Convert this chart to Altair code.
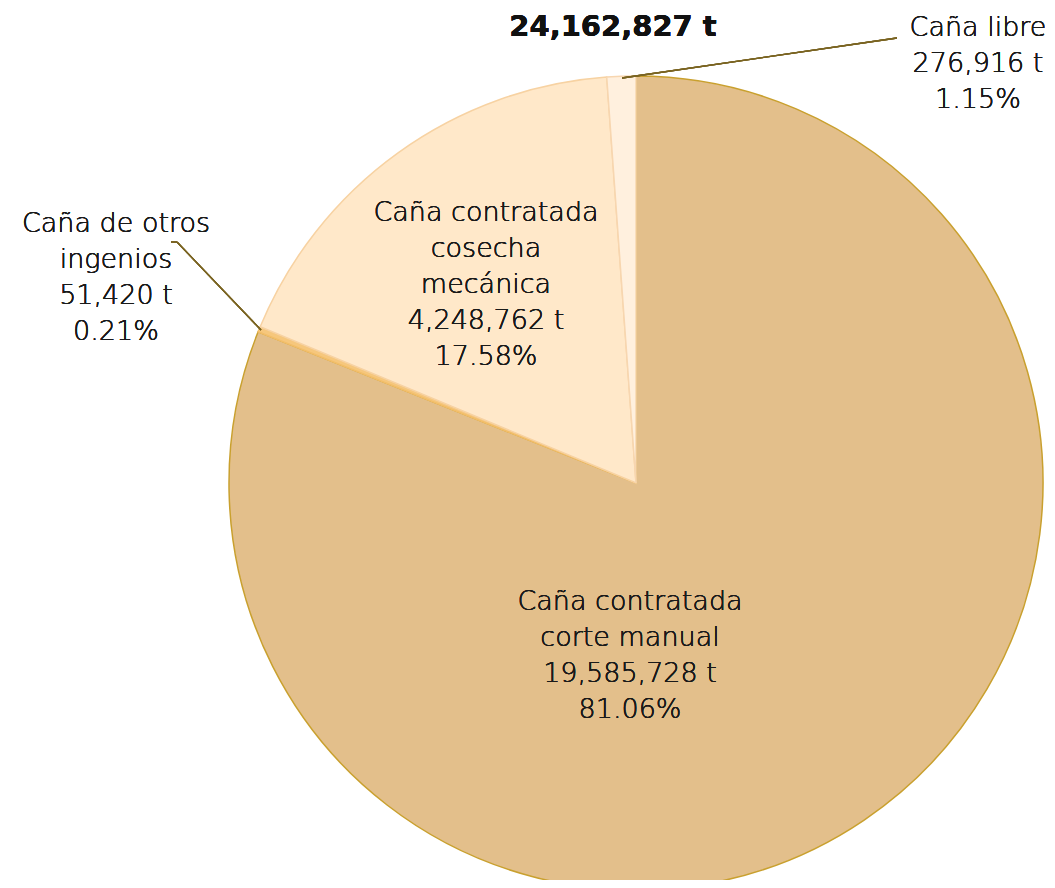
import altair as alt
import pandas as pd

# ---- data ----
categories = [
    "Caña contratada corte manual",
    "Caña de otros ingenios",
    "Caña contratada cosecha mecánica",
    "Caña libre",
]
name_lines = [
    ["Caña contratada", "corte manual"],
    ["Caña de otros", "ingenios"],
    ["Caña contratada", "cosecha", "mecánica"],
    ["Caña libre"],
]
values = [19585728, 51420, 4248762, 276916]
percents = ["81.06%", "0.21%", "17.58%", "1.15%"]
total_label = "24,162,827 t"

fills = ["#E3BF8B", "#F6C77C", "#FFE8C9", "#FFF0DE"]
strokes = ["#C9A02E", "#F2BE6A", "#F7D2A2", "#F7D6B0"]

df = pd.DataFrame({"cat": categories, "value": values, "order": list(range(len(values)))})

W, H = 1039, 872
CX, CY, R = 628, 475, 407
FONT = "DejaVu Sans"
FS = 27
LH = 36
LEADER = "#7A6422"

pie = alt.Chart(df).mark_arc(outerRadius=R, strokeWidth=1.5).encode(
    theta=alt.Theta("value:Q", stack=True),
    order=alt.Order("order:Q", sort="ascending"),
    color=alt.Color("cat:N", scale=alt.Scale(domain=categories, range=fills), legend=None),
    stroke=alt.Stroke("cat:N", scale=alt.Scale(domain=categories, range=strokes), legend=None),
    x=alt.value(CX),
    y=alt.value(CY),
)


def label_lines(i):
    return name_lines[i] + [f"{values[i]:,} t", percents[i]]


def label(i, x, y):
    return alt.Chart(df).mark_text(
        font=FONT, fontSize=FS, fontWeight=300, lineHeight=LH, align="center",
        baseline="middle", color="#1A1A1A",
    ).encode(x=alt.value(x), y=alt.value(y), text=alt.value(label_lines(i)))


base = alt.Chart(df)
lbl_manual = label(0, 622, 594)
lbl_otros = label(1, 108, 216)
lbl_mec = label(2, 478, 205)
lbl_libre = label(3, 970, 20)

title = base.mark_text(
    font=FONT, fontSize=29, fontWeight="bold", align="center", baseline="alphabetic",
    color="#111111"
).encode(x=alt.value(605), y=alt.value(28), text=alt.value(total_label))

lead1 = base.mark_rule(color=LEADER, strokeWidth=1.3).encode(
    x=alt.value(614), y=alt.value(70), x2=alt.value(889), y2=alt.value(30))
lead2a = base.mark_rule(color=LEADER, strokeWidth=1.3).encode(
    x=alt.value(163), y=alt.value(234), x2=alt.value(169), y2=alt.value(234))
lead2b = base.mark_rule(color=LEADER, strokeWidth=1.3).encode(
    x=alt.value(169), y=alt.value(234), x2=alt.value(253), y2=alt.value(322))

chart = alt.layer(
    pie, lead1, lead2a, lead2b, title, lbl_manual, lbl_otros, lbl_mec, lbl_libre
).properties(
    width=W, height=H, padding=0, background="white",
    autosize=alt.AutoSizeParams(type="none"),
).configure_view(stroke=None)

chart.save("out.html", embed_options={"renderer": "svg", "actions": False})
